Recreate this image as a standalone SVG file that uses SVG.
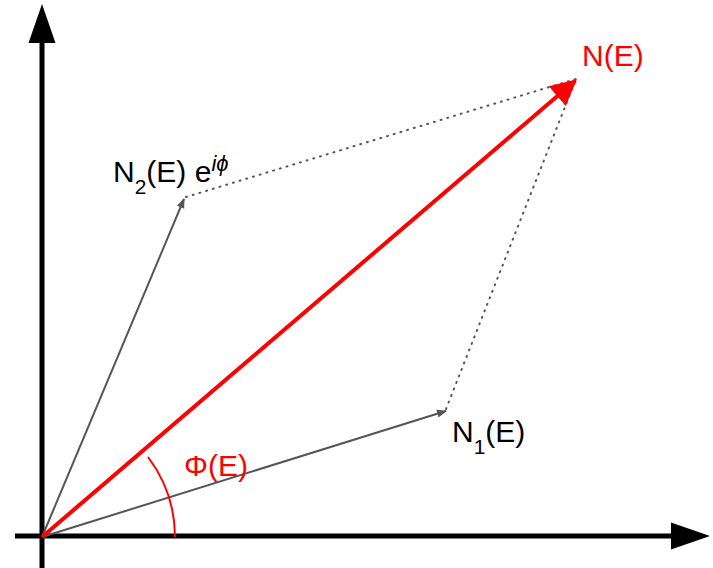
<svg xmlns="http://www.w3.org/2000/svg" width="713" height="568" viewBox="0 0 713 568">
<style>
text{font-family:"Liberation Sans",Arial,sans-serif;font-size:30px}
.red{fill:#ff0000}
.blk{fill:#000}
.vec{stroke:#555;stroke-width:2;fill:none}
.dot{stroke:#555;stroke-width:2;stroke-dasharray:1 6;stroke-linecap:round;fill:none}
</style>
<defs>
<marker id="ga" viewBox="0 0 10 10" refX="9" refY="5" markerWidth="5" markerHeight="5" orient="auto" markerUnits="strokeWidth"><path d="M0,1 L10,5 L0,9 z" fill="#555"/></marker>
<marker id="ra" viewBox="0 0 10 10" refX="9" refY="5" markerWidth="6.5" markerHeight="6.5" orient="auto" markerUnits="strokeWidth"><path d="M0,0 L10,5 L0,10 z" fill="#ff0000"/></marker>
</defs>
<g id="connectors">
<line id="y-axis" x1="42" y1="568" x2="42" y2="40" stroke="#000" stroke-width="5"/>
<path d="M42,4 L28.5,43 L55.5,43 z" fill="#000"/>
<line id="x-axis" x1="15" y1="536" x2="675" y2="536" stroke="#000" stroke-width="5"/>
<path d="M710,536 L671,522.5 L671,549.5 z" fill="#000"/>
<line class="dot" x1="186" y1="197" x2="576" y2="79"/>
<line class="dot" x1="446" y1="409" x2="576" y2="79"/>
<line class="vec" x1="42" y1="537" x2="184" y2="199" marker-end="url(#ga)"/>
<line class="vec" x1="42" y1="537" x2="446" y2="411" marker-end="url(#ga)"/>
<line x1="42" y1="537" x2="575" y2="81" stroke="#ff0000" stroke-width="4" marker-end="url(#ra)"/>
<path d="M175,537 A133,133 0 0 0 148,457" stroke="#ff0000" stroke-width="2" fill="none"/>
</g>
<g id="node-NE"><text class="red" x="582" y="66">N(E)</text></g>
<g id="node-N2"><text class="blk" x="113" y="182">N<tspan font-size="21" dy="12">2</tspan><tspan dy="-12">(E) e</tspan><tspan font-size="22" font-style="italic" dy="-11">iϕ</tspan></text></g>
<g id="node-N1"><text class="blk" x="452" y="442">N<tspan font-size="21" dy="12">1</tspan><tspan dy="-12">(E)</tspan></text></g>
<g id="node-Phi"><text class="red" x="184" y="476">Φ(E)</text></g>
</svg>
